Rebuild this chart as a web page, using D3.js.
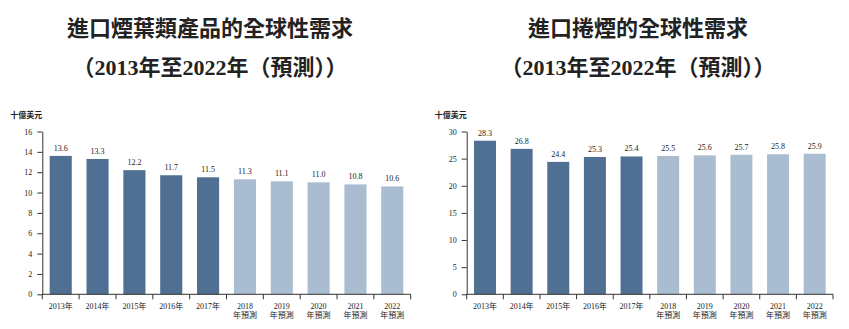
<!DOCTYPE html>
<html><head><meta charset="utf-8">
<script src="https://cdn.jsdelivr.net/npm/d3@7"></script>
<style>
body{margin:0;background:#fff;}
svg text{font-family:"Liberation Serif","Noto Sans CJK TC",serif;fill:#222;}
</style></head>
<body>
<svg id="c" width="849" height="329"></svg>
<script>
const years = ["2013","2014","2015","2016","2017","2018","2019","2020","2021","2022"];
const forecast = [false,false,false,false,false,true,true,true,true,true];
const leafValues = [13.6,13.3,12.2,11.7,11.5,11.3,11.1,11.0,10.8,10.6];
const cigValues = [28.3,26.8,24.4,25.3,25.4,25.5,25.6,25.7,25.8,25.9];
const leafTicks = [0,2,4,6,8,10,12,14,16];
const cigTicks = [0,5,10,15,20,25,30];
const titles = [["進口煙葉類產品的全球性需求","（2013年至2022年（預測））"],["進口捲煙的全球性需求","（2013年至2022年（預測））"]];
const unitLabel = "十億美元";

const svg = d3.select("#c");
const dark = "#4f7092", light = "#aabccf", axisCol = "#333";

function panel(cfg){
  const g = svg.append("g");
  const x = d3.scaleBand().domain(years).range([cfg.x0, cfg.x1]).paddingInner(0.4).paddingOuter(0.2);
  const y = d3.scaleLinear().domain([0, cfg.max]).range([294.3, 131.5]);
  // titles
  g.append("text").attr("x", cfg.tx).attr("y", 36).attr("text-anchor","middle")
    .style("font-family","'Noto Sans CJK TC'").style("font-weight","700").style("font-size","22px").text(cfg.title[0]);
  g.append("text").attr("x", cfg.tx).attr("y", 75).attr("text-anchor","middle")
    .style("font-family","'Liberation Serif','Noto Sans CJK TC'").style("font-weight","700").style("font-size","22px").text(cfg.title[1]);
  g.append("text").attr("x", cfg.x0).attr("y", 118).attr("text-anchor","end")
    .style("font-size","8px").style("font-weight","700").text(unitLabel);
  // bars
  g.selectAll("rect").data(cfg.values).join("rect")
    .attr("x",(d,i)=>x(years[i])).attr("width",x.bandwidth())
    .attr("y",d=>y(d)).attr("height",d=>y(0)-y(d))
    .attr("fill",(d,i)=>forecast[i]?light:dark);
  g.selectAll("text.val").data(cfg.values).join("text").attr("class","val")
    .attr("x",(d,i)=>x(years[i])+x.bandwidth()/2).attr("y",d=>y(d)-5)
    .attr("text-anchor","middle").style("font-size","8px").text(d=>d.toFixed(1));
  // y axis
  const ya = d3.axisLeft(y).tickValues(cfg.ticks).tickSize(5).tickPadding(5).tickSizeOuter(0);
  const yg = g.append("g").attr("transform",`translate(${cfg.x0},0)`).call(ya);
  yg.selectAll("text").style("font-size","8px").style("font-family","'Liberation Serif'");
  yg.selectAll("line,path").attr("stroke",axisCol);
  // x axis
  const xb = g.append("g").attr("transform",`translate(0,${y(0)})`);
  xb.append("line").attr("x1",cfg.x0).attr("x2",cfg.x1).attr("stroke",axisCol);
  const bounds = years.map(d=>x(d)-x.step()*x.paddingInner()/2).concat([cfg.x1]);
  bounds[0]=cfg.x0;
  xb.selectAll("line.t").data(bounds).join("line").attr("class","t")
    .attr("x1",d=>d).attr("x2",d=>d).attr("y1",0).attr("y2",5).attr("stroke",axisCol);
  years.forEach((yr,i)=>{
    const cx = x(yr)+x.bandwidth()/2;
    const t = xb.append("text").attr("x",cx).attr("y",15).attr("text-anchor","middle").style("font-size","8px");
    if(!forecast[i]) t.text(yr+"年");
    else {
      t.text(yr);
      xb.append("text").attr("x",cx).attr("y",24).attr("text-anchor","middle").style("font-size","8px").text("年預測");
    }
  });
}
panel({x0:42.3,x1:410.7,max:16,values:leafValues,ticks:leafTicks,title:titles[0],tx:210});
panel({x0:466.7,x1:833,max:30,values:cigValues,ticks:cigTicks,title:titles[1],tx:638});
</script>
</body></html>
